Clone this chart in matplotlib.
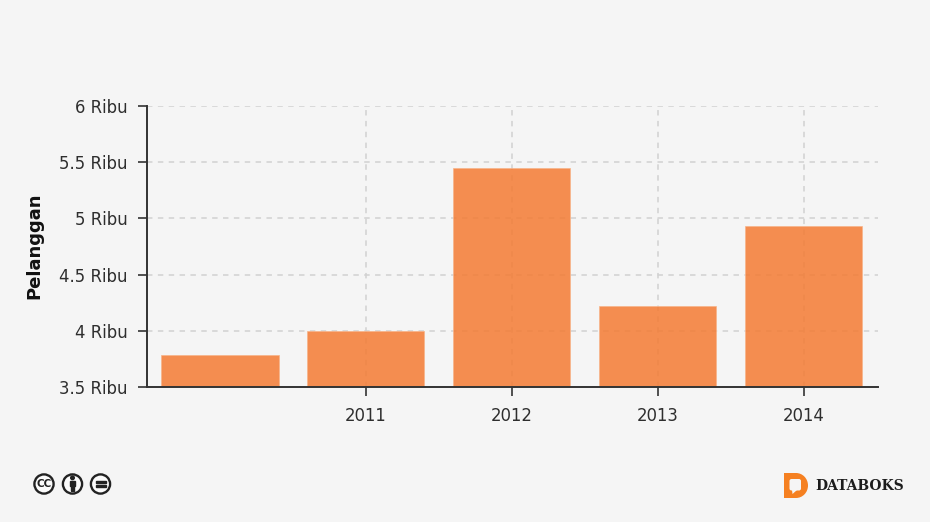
import matplotlib
matplotlib.use('Agg')
import matplotlib.pyplot as plt
from matplotlib.patches import Circle, Rectangle, FancyBboxPatch, Polygon, Ellipse

# data
years = [2010, 2011, 2012, 2013, 2014]
pelanggan = [3.785, 4.0, 5.45, 4.22, 4.93]
y_ticks = [3.5, 4, 4.5, 5, 5.5, 6]
y_labels = ['3.5 Ribu', '4 Ribu', '4.5 Ribu', '5 Ribu', '5.5 Ribu', '6 Ribu']
x_ticks = [2011, 2012, 2013, 2014]

W, H = 930, 522
bg = '#f5f5f5'
dark = '#333333'
text_col = '#2e2e2e'
orange = '#f47b33'

fig = plt.figure(figsize=(W / 100, H / 100), dpi=100, facecolor=bg)

# posisi plot dalam pixel
left, right, top, bottom = 147, 878, 106, 387
ax = fig.add_axes([left / W, 1 - bottom / H, (right - left) / W, (bottom - top) / H])
ax.set_facecolor(bg)

ax.bar(years, pelanggan, width=0.803, color=orange, alpha=0.85, zorder=3, edgecolor='#f8b48a', linewidth=0.6)

ax.set_xlim(2009.5, 2014.51)
ax.set_ylim(3.5, 6)
ax.set_xticks(x_ticks)
ax.set_xticklabels([str(x) for x in x_ticks])
ax.set_yticks(y_ticks)
ax.set_yticklabels(y_labels, va='center_baseline')

ax.grid(True, color='#d2d2d2', linestyle=(0, (3.4, 3.4)), linewidth=1.15, zorder=1)
ax.set_axisbelow(True)

for s in ['top', 'right']:
    ax.spines[s].set_visible(False)
for s in ['left', 'bottom']:
    ax.spines[s].set_color(dark)
    ax.spines[s].set_linewidth(1.4)
    ax.spines[s].set_zorder(5)
ax.tick_params(axis='both', length=6.5, width=1.2, color=dark, labelcolor=text_col, labelsize=11.9,
               labelfontfamily='DejaVu Sans')
ax.tick_params(axis='x', pad=8)
ax.tick_params(axis='y', pad=7.7)

fig.text(34 / W, 1 - 246 / H, 'Pelanggan', rotation=90, ha='center', va='center',
         fontsize=13, fontweight='bold', color='#111111', family='DejaVu Sans')

# overlay untuk logo, koordinat pixel
ov = fig.add_axes([0, 0, 1, 1], facecolor='none')
ov.set_xlim(0, W)
ov.set_ylim(H, 0)
ov.axis('off')

# ikon lisensi
icon = '#222222'
for cx in [44, 72.5, 100.5]:
    ov.add_patch(Circle((cx, 484), 9.6, facecolor='#fbfbfb', edgecolor=icon, linewidth=1.7))
ov.text(44, 484.2, 'CC', ha='center', va='center', fontsize=7.5, fontweight='bold', color=icon, family='DejaVu Sans')
ov.add_patch(Circle((72.5, 477.8), 1.8, color=icon))
ov.add_patch(Rectangle((70.2, 480.5), 4.6, 5, color=icon))
ov.add_patch(Rectangle((71, 485), 3, 5.5, color=icon))
ov.add_patch(Rectangle((95.5, 480.8), 10, 2.2, color=icon))
ov.add_patch(Rectangle((95.5, 485.2), 10, 2.2, color=icon))

# logo databoks
logo = '#f58021'
ov.add_patch(Rectangle((783.5, 473), 12, 25, color=logo, linewidth=0))
ov.add_patch(Ellipse((796, 485.5), 24, 25, color=logo, linewidth=0))
ov.add_patch(FancyBboxPatch((789.5, 479), 11.5, 11.5, boxstyle='round,pad=0,rounding_size=2', facecolor=bg, edgecolor='none'))
ov.add_patch(Polygon([(792, 490), (797, 490), (792.5, 494)], facecolor=bg, edgecolor='none'))
ov.text(815, 485.5, 'DATABOKS', ha='left', va='center', fontsize=10, fontweight='bold', color='#1c1c1c', family='DejaVu Serif')

fig.savefig('out.png', dpi=100, facecolor=bg)
